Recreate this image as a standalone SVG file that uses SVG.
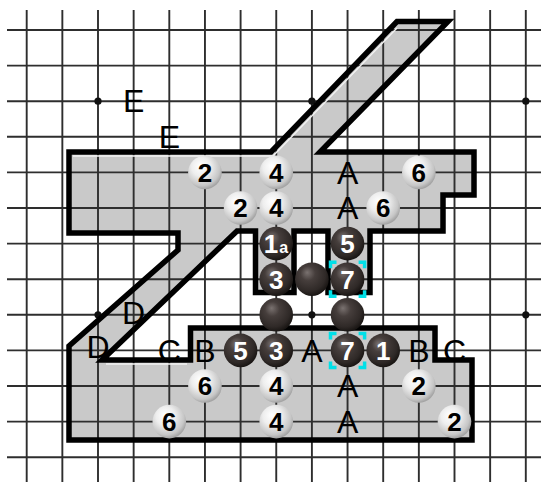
<svg xmlns="http://www.w3.org/2000/svg" width="541" height="482" viewBox="0 0 541 482">
<defs>
<radialGradient id="gw" cx="0.42" cy="0.38" r="0.62" fx="0.36" fy="0.3">
<stop offset="0" stop-color="#ffffff"/>
<stop offset="0.45" stop-color="#eeeeee"/>
<stop offset="0.85" stop-color="#c6c6c6"/>
<stop offset="1" stop-color="#a4a4a4"/>
</radialGradient>
<radialGradient id="gb" cx="0.42" cy="0.38" r="0.62" fx="0.36" fy="0.3">
<stop offset="0" stop-color="#7a7270"/>
<stop offset="0.35" stop-color="#463e3c"/>
<stop offset="0.8" stop-color="#2f2927"/>
<stop offset="1" stop-color="#1a1614"/>
</radialGradient>
</defs>
<style>
.grid line{stroke:#2e2e2e;stroke-width:1.9}
.hoshi{fill:#111}
.area{fill:#c9c9c9;stroke:none}
.outline{fill:none;stroke:#000;stroke-width:5.5;stroke-linejoin:miter}
.hl{fill:none;stroke:#f2f2f2;stroke-width:1.4}
.w circle{fill:url(#gw)}
.b circle{fill:url(#gb)}
.w text{fill:#000;font-family:"Liberation Sans",Arial,sans-serif;font-weight:bold;font-size:26px;text-anchor:middle}
.b text{fill:#fff;font-family:"Liberation Sans",Arial,sans-serif;font-weight:bold;font-size:26px;text-anchor:middle}
.b text.sub{font-size:16px}
.lbl{fill:#000;font-family:"Liberation Sans",Arial,sans-serif;font-size:32px;text-anchor:middle}
.mark{fill:none;stroke:#00e0e8;stroke-width:3.5;stroke-linejoin:miter}
</style>
<rect width="541" height="482" fill="#fff"/>
<path class="area" d="M69,152 L271,152 L397,21.5 L448,21.5 L320,152 L474,152 L474,195 L443,195 L443,231 L370,231 L370,292.5 L328,292.5 L328,231 L294,231 L294,292.5 L255.5,292.5 L255.5,231 L237,231 L102,360 L190.5,360 L190.5,328 L435,328 L435,360 L472,360 L472,440 L69,440 L69,346 L178,250 L178,233 L69,233 Z"/>
<g class="grid" id="grid">
<line x1="7" y1="30" x2="541" y2="30"/>
<line x1="7" y1="65.6" x2="541" y2="65.6"/>
<line x1="7" y1="101.2" x2="541" y2="101.2"/>
<line x1="7" y1="136.8" x2="541" y2="136.8"/>
<line x1="7" y1="172.4" x2="541" y2="172.4"/>
<line x1="7" y1="208" x2="541" y2="208"/>
<line x1="7" y1="243.6" x2="541" y2="243.6"/>
<line x1="7" y1="279.2" x2="541" y2="279.2"/>
<line x1="7" y1="314.8" x2="541" y2="314.8"/>
<line x1="7" y1="350.4" x2="541" y2="350.4"/>
<line x1="7" y1="386" x2="541" y2="386"/>
<line x1="7" y1="421.6" x2="541" y2="421.6"/>
<line x1="7" y1="457.2" x2="541" y2="457.2"/>
<line x1="26.7" y1="10" x2="26.7" y2="482"/>
<line x1="62.35" y1="10" x2="62.35" y2="482"/>
<line x1="98" y1="10" x2="98" y2="482"/>
<line x1="133.65" y1="10" x2="133.65" y2="482"/>
<line x1="169.3" y1="10" x2="169.3" y2="482"/>
<line x1="204.95" y1="10" x2="204.95" y2="482"/>
<line x1="240.6" y1="10" x2="240.6" y2="482"/>
<line x1="276.25" y1="10" x2="276.25" y2="482"/>
<line x1="311.9" y1="10" x2="311.9" y2="482"/>
<line x1="347.55" y1="10" x2="347.55" y2="482"/>
<line x1="383.2" y1="10" x2="383.2" y2="482"/>
<line x1="418.85" y1="10" x2="418.85" y2="482"/>
<line x1="454.5" y1="10" x2="454.5" y2="482"/>
<line x1="490.15" y1="10" x2="490.15" y2="482"/>
<line x1="525.8" y1="10" x2="525.8" y2="482"/>
</g>
<g id="hoshi">
<circle class="hoshi" cx="98" cy="101.2" r="3.6"/>
<circle class="hoshi" cx="311.9" cy="101.2" r="3.6"/>
<circle class="hoshi" cx="525.8" cy="101.2" r="3.6"/>
<circle class="hoshi" cx="98" cy="314.8" r="3.6"/>
<circle class="hoshi" cx="311.9" cy="314.8" r="3.6"/>
<circle class="hoshi" cx="525.8" cy="314.8" r="3.6"/>
</g>
<g id="region">
<path class="hl" d="M73,156 L273,156 L397,28"/>
<path class="hl" d="M106,364 L187,364"/>
<path class="outline" d="M69,152 L271,152 L397,21.5 L448,21.5 L320,152 L474,152 L474,195 L443,195 L443,231 L370,231 L370,292.5 L328,292.5 L328,231 L294,231 L294,292.5 L255.5,292.5 L255.5,231 L237,231 L102,360 L190.5,360 L190.5,328 L435,328 L435,360 L472,360 L472,440 L69,440 L69,346 L178,250 L178,233 L69,233 Z"/>
</g>
<g id="marks">
<path class="mark" d="M330.5,268.2 L330.5,262.2 L336.5,262.2 M358.6,262.2 L364.6,262.2 L364.6,268.2 M364.6,290.2 L364.6,296.2 L358.6,296.2 M336.5,296.2 L330.5,296.2 L330.5,290.2"/>
<path class="mark" d="M330.5,339.4 L330.5,333.4 L336.5,333.4 M358.6,333.4 L364.6,333.4 L364.6,339.4 M364.6,361.4 L364.6,367.4 L358.6,367.4 M336.5,367.4 L330.5,367.4 L330.5,361.4"/>
</g>
<g id="white-stones">
<g class="w" id="w-f5"><circle cx="204.95" cy="172.4" r="16.8"/><text x="204.95" y="181.8">2</text></g>
<g class="w" id="w-h5"><circle cx="276.25" cy="172.4" r="16.8"/><text x="276.25" y="181.8">4</text></g>
<g class="w" id="w-l5"><circle cx="418.85" cy="172.4" r="16.8"/><text x="418.85" y="181.8">6</text></g>
<g class="w" id="w-g6"><circle cx="240.6" cy="208" r="16.8"/><text x="240.6" y="217.4">2</text></g>
<g class="w" id="w-h6"><circle cx="276.25" cy="208" r="16.8"/><text x="276.25" y="217.4">4</text></g>
<g class="w" id="w-k6"><circle cx="383.2" cy="208" r="16.8"/><text x="383.2" y="217.4">6</text></g>
<g class="w" id="w-f11"><circle cx="204.95" cy="386" r="16.8"/><text x="204.95" y="395.4">6</text></g>
<g class="w" id="w-h11"><circle cx="276.25" cy="386" r="16.8"/><text x="276.25" y="395.4">4</text></g>
<g class="w" id="w-l11"><circle cx="418.85" cy="386" r="16.8"/><text x="418.85" y="395.4">2</text></g>
<g class="w" id="w-e12"><circle cx="169.3" cy="421.6" r="16.8"/><text x="169.3" y="431">6</text></g>
<g class="w" id="w-h12"><circle cx="276.25" cy="421.6" r="16.8"/><text x="276.25" y="431">4</text></g>
<g class="w" id="w-m12"><circle cx="454.5" cy="421.6" r="16.8"/><text x="454.5" y="431">2</text></g>
</g>
<g id="black-stones">
<g class="b" id="b-h7"><circle cx="276.25" cy="243.6" r="16.8"/><text x="271" y="253">1</text><text class="sub" x="283.8" y="252.5">a</text></g>
<g class="b" id="b-j7"><circle cx="347.55" cy="243.6" r="16.8"/><text x="347.55" y="253">5</text></g>
<g class="b" id="b-h8"><circle cx="276.25" cy="279.2" r="16.8"/><text x="276.25" y="288.6">3</text></g>
<g class="b" id="b-i8"><circle cx="311.9" cy="279.2" r="16.8"/></g>
<g class="b" id="b-j8"><circle cx="347.55" cy="279.2" r="16.8"/><text x="347.55" y="288.6">7</text></g>
<g class="b" id="b-h9"><circle cx="276.25" cy="314.8" r="16.8"/></g>
<g class="b" id="b-j9"><circle cx="347.55" cy="314.8" r="16.8"/></g>
<g class="b" id="b-g10"><circle cx="240.6" cy="350.4" r="16.8"/><text x="240.6" y="359.8">5</text></g>
<g class="b" id="b-h10"><circle cx="276.25" cy="350.4" r="16.8"/><text x="276.25" y="359.8">3</text></g>
<g class="b" id="b-j10"><circle cx="347.55" cy="350.4" r="16.8"/><text x="347.55" y="359.8">7</text></g>
<g class="b" id="b-k10"><circle cx="383.2" cy="350.4" r="16.8"/><text x="383.2" y="359.8">1</text></g>
</g>
<g id="labels">
<text class="lbl" x="133.65" y="112.4">E</text>
<text class="lbl" x="169.3" y="148">E</text>
<text class="lbl" x="347.55" y="183.6">A</text>
<text class="lbl" x="347.55" y="219.2">A</text>
<text class="lbl" x="311.9" y="361.6">A</text>
<text class="lbl" x="347.55" y="397.2">A</text>
<text class="lbl" x="347.55" y="432.8">A</text>
<text class="lbl" x="204.95" y="361.6">B</text>
<text class="lbl" x="418.85" y="361.6">B</text>
<text class="lbl" x="169.3" y="361.6">C</text>
<text class="lbl" x="454.5" y="361.6">C</text>
<text class="lbl" x="133.65" y="324">D</text>
<text class="lbl" x="98" y="358">D</text>
</g>
</svg>
